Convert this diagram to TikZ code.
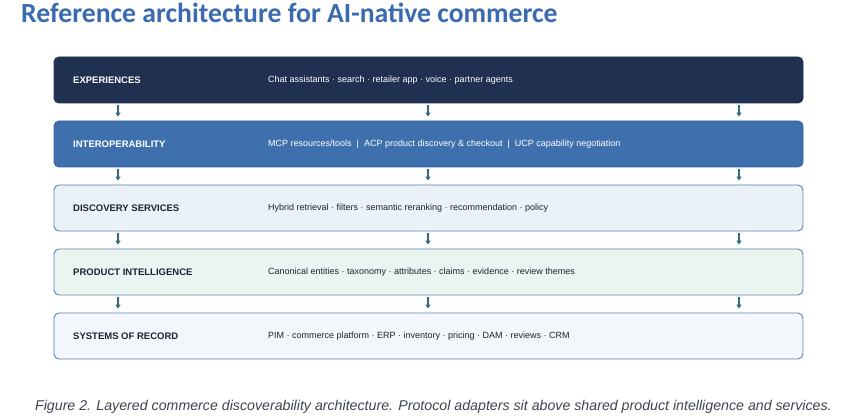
\documentclass[tikz,border=0pt]{standalone}
\usepackage{fontspec}
\setmainfont{Liberation Sans}
\newfontfamily\titlefont{Carlito}
\definecolor{titleblue}{HTML}{3A6BB0}
\definecolor{navy}{HTML}{1F3050}
\definecolor{midblue}{HTML}{3F70AE}
\definecolor{edgeblue}{HTML}{5A80AC}
\definecolor{paleblue}{HTML}{EAF1F8}
\definecolor{palegreen}{HTML}{EAF4F0}
\definecolor{palegrey}{HTML}{F3F6FA}
\definecolor{inktext}{HTML}{1B2433}
\definecolor{arrowteal}{HTML}{2F6C78}
\usetikzlibrary{arrows.meta}
\tikzset{
  layer/.style={draw=edgeblue, line width=0.9pt, rounded corners=5pt,
    minimum width=749pt, minimum height=46pt, inner sep=0pt},
  lname/.style={anchor=west, inner sep=0pt, font=\fontsize{9.5}{11}\selectfont\bfseries},
  ldesc/.style={anchor=west, inner sep=0pt, font=\fontsize{9}{11}\selectfont},
  flow/.style={-{Triangle[width=5pt,length=4pt]}, arrowteal, line width=1.1pt,
    shorten <=2pt, shorten >=4pt}
}
\begin{document}
\begin{tikzpicture}[x=1pt,y=-1pt]
        \useasboundingbox[fill=white] (0,0) rectangle (844,419);
        \node[anchor=base west, inner sep=0pt, text=titleblue,
          font=\titlefont\fontsize{27.7}{32}\selectfont\bfseries] (title) at (21,23)
          {Reference architecture for AI-native commerce};
        \node[layer, fill=navy, draw=navy] (exp) at (428.5,80) {};
        \node[layer, fill=midblue, draw=midblue!90!black] (iop) at (428.5,144) {};
        \node[layer, fill=paleblue] (disc) at (428.5,208) {};
        \node[layer, fill=palegreen] (prod) at (428.5,272) {};
        \node[layer, fill=palegrey] (sor) at (428.5,336) {};
        \node[lname, text=white] (expname) at (73,80) {EXPERIENCES};
        \node[lname, text=white] (iopname) at (73,144) {INTEROPERABILITY};
        \node[lname, text=inktext] (discname) at (73,208) {DISCOVERY SERVICES};
        \node[lname, text=inktext] (prodname) at (73,272) {PRODUCT INTELLIGENCE};
        \node[lname, text=inktext] (sorname) at (73,336) {SYSTEMS OF RECORD};
        \node[ldesc, text=white] (expdesc) at (268,80)
          {Chat assistants · search · retailer app · voice · partner agents};
        \node[ldesc, text=white] (iopdesc) at (268,144)
          {MCP resources/tools \ | \ ACP product discovery \& checkout \ | \ UCP capability negotiation};
        \node[ldesc, text=inktext] (discdesc) at (268,208)
          {Hybrid retrieval · filters · semantic reranking · recommendation · policy};
        \node[ldesc, text=inktext] (proddesc) at (268,272)
          {Canonical entities · taxonomy · attributes · claims · evidence · review themes};
        \node[ldesc, text=inktext] (sordesc) at (268,336)
          {PIM · commerce platform · ERP · inventory · pricing · DAM · reviews · CRM};
        \coordinate (colA) at (118,0);
        \coordinate (colB) at (428,0);
        \coordinate (colC) at (739,0);
        \foreach \up/\down in {exp/iop, iop/disc, disc/prod, prod/sor} {
          \draw[flow] (\up.south -| colA) -- (\down.north -| colA);
          \draw[flow] (\up.south -| colB) -- (\down.north -| colB);
          \draw[flow] (\up.south -| colC) -- (\down.north -| colC);
        }
        \node[anchor=base east, inner sep=0pt, text=inktext!85,
          font=\fontsize{14.2}{16}\selectfont\itshape] (caption) at (832,411)
          {Figure 2. Layered commerce discoverability architecture. Protocol adapters sit above shared product intelligence and services.};
    \end{tikzpicture}
\end{document}
